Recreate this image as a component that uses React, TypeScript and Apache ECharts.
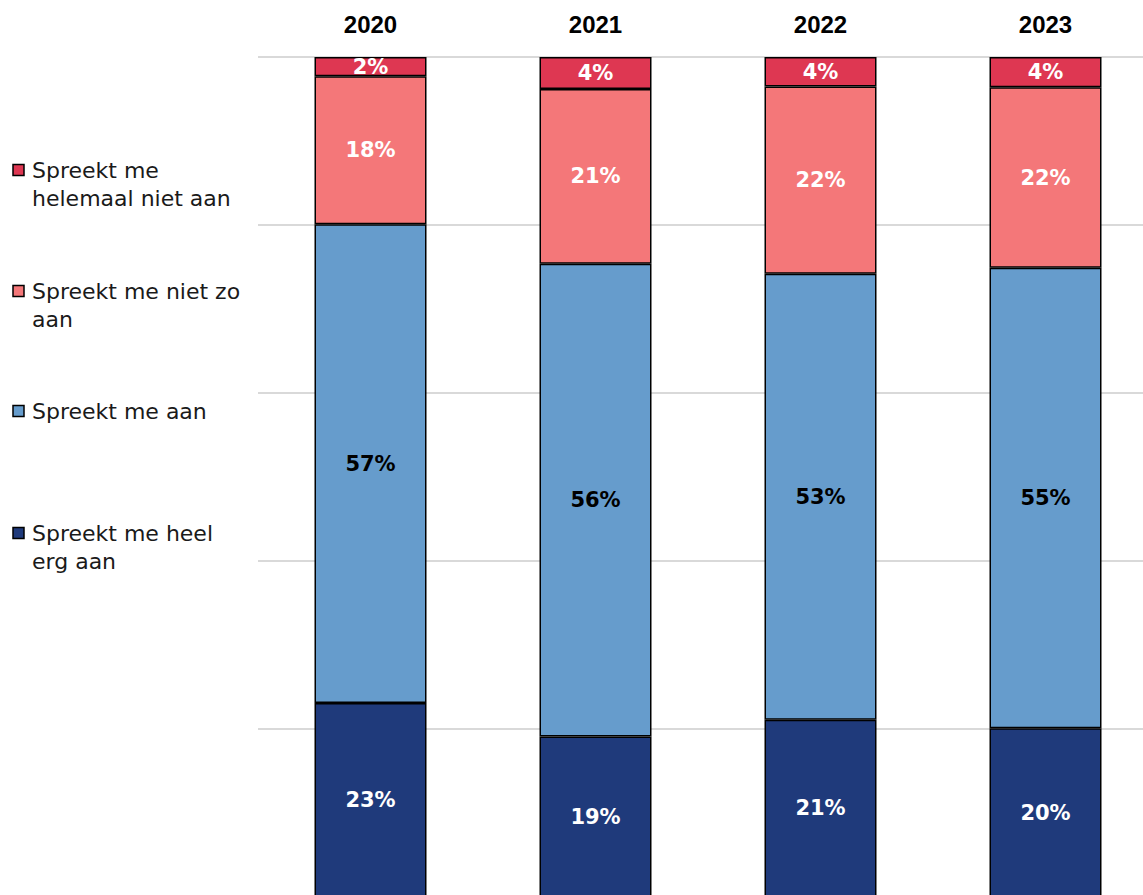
import React, { useEffect, useRef } from "react";
import * as echarts from "echarts";

const years = ["2020", "2021", "2022", "2023"];
const seriesNames = [
  "Spreekt me heel erg aan",
  "Spreekt me aan",
  "Spreekt me niet zo aan",
  "Spreekt me helemaal niet aan",
];
const legendLabels = [
  "Spreekt me heel\nerg aan",
  "Spreekt me aan",
  "Spreekt me niet zo\naan",
  "Spreekt me\nhelemaal niet aan",
];
const heelErgAan = [23.1, 19.1, 21.1, 20.1];
const aan = [57.0, 56.3, 53.1, 54.8];
const nietZoAan = [17.6, 20.8, 22.3, 21.5];
const helemaalNietAan = [2.3, 3.8, 3.5, 3.6];
const seriesValues = [heelErgAan, aan, nietZoAan, helemaalNietAan];
const colors = ["#1f3a7b", "#669ccc", "#f47779", "#de3752"];
const labelColors = ["#ffffff", "#000000", "#ffffff", "#ffffff"];
const yTicks = [0, 20, 40, 60, 80, 100];

export default function App() {
  const ref = useRef<HTMLDivElement>(null);
  useEffect(() => {
    if (!ref.current) return;
    document.body.style.overflow = "hidden";
    const chart = echarts.init(ref.current, null, { renderer: "svg" });
    const legendFirstLineCenters = [533, 411, 291, 170];
    const graphics: any[] = [];
    seriesNames.forEach((name, i) => {
      const cy = legendFirstLineCenters[i];
      graphics.push({
        type: "rect",
        shape: { x: 13, y: cy - 5.5, width: 11, height: 11 },
        style: { fill: colors[i], stroke: "#000", lineWidth: 1.5 },
      });
      graphics.push({
        type: "text",
        x: 32,
        y: cy - 14,
        style: {
          text: legendLabels[i],
          font: "22px 'DejaVu Sans'",
          fill: "#1a1a1a",
          lineHeight: 28,
          verticalAlign: "top",
          align: "left",
        },
      });
    });
    chart.setOption({
      animation: false,
      grid: { left: 258, width: 900, top: 57, height: 840 },
      xAxis: {
        type: "category",
        data: years,
        position: "top",
        axisLine: { show: false },
        axisTick: { show: false },
        axisLabel: {
          color: "#000",
          fontFamily: "Liberation Sans",
          fontWeight: "bold",
          fontSize: 24,
          margin: 21,
        },
      },
      yAxis: {
        type: "value",
        min: yTicks[0],
        max: yTicks[yTicks.length - 1],
        interval: 20,
        axisLabel: { show: false },
        axisLine: { show: false },
        axisTick: { show: false },
        splitLine: { lineStyle: { color: "#d9d9d9", width: 2 } },
      },
      graphic: graphics,
      series: seriesNames.map((name, i) => ({
        name,
        type: "bar",
        stack: "total",
        barWidth: 112,
        data: seriesValues[i],
        itemStyle: { color: colors[i], borderColor: "#000", borderWidth: 1.5 },
        label: {
          show: true,
          position: "inside",
          color: labelColors[i],
          fontFamily: "DejaVu Sans",
          fontWeight: "bold",
          fontSize: 21,
          formatter: (p: any) => Math.round(p.value) + "%",
        },
      })),
    });
    return () => chart.dispose();
  }, []);
  return (
    <div
      ref={ref}
      style={{ position: "fixed", left: 0, top: 0, width: 1170, height: 905, background: "#fff" }}
    />
  );
}
